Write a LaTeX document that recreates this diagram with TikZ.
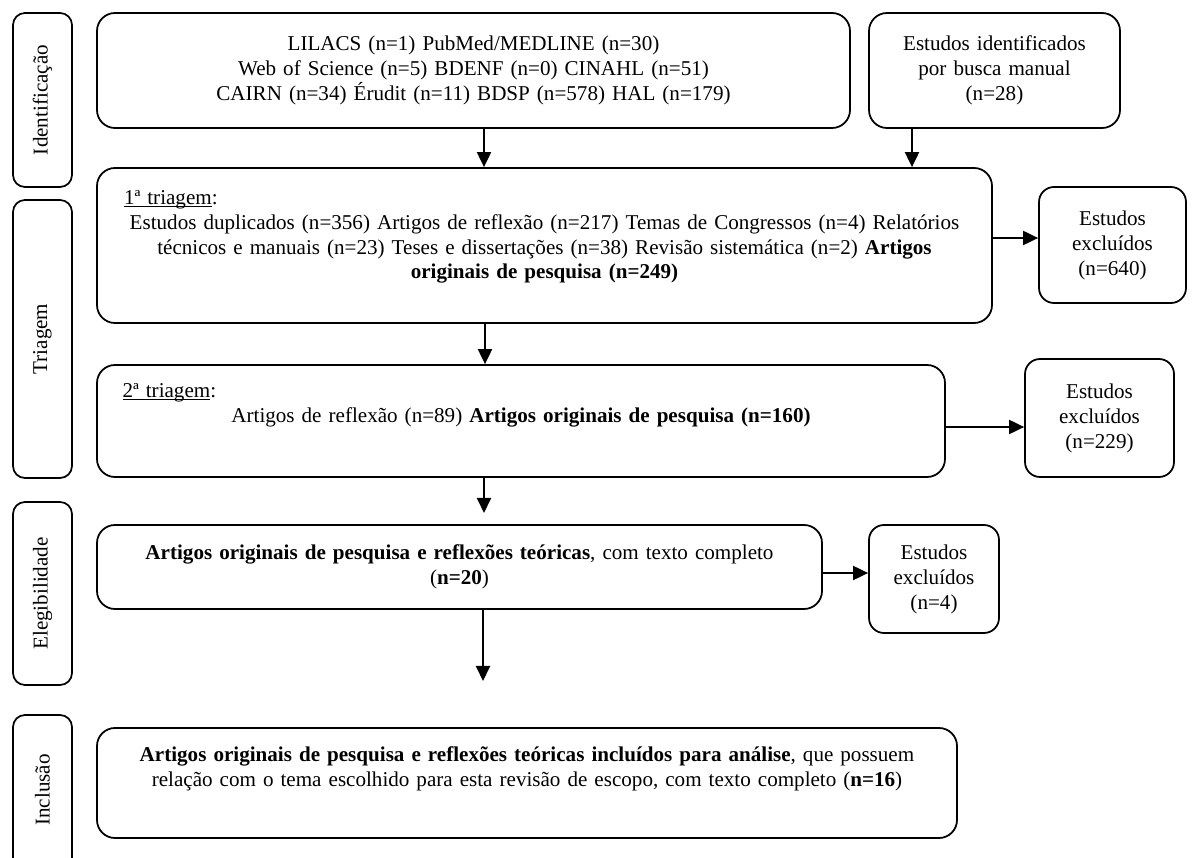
\documentclass[tikz,border=0pt]{standalone}
\usepackage{fontspec}
\setmainfont{Liberation Serif}
\usepackage{tikz}
\usetikzlibrary{arrows.meta, positioning}

% underline sitting close to the baseline
\newcommand{\sublinhado}[1]{\setbox0\hbox{#1}\rlap{\rule[-1.6pt]{\wd0}{0.55pt}}\box0}

\begin{document}
\begin{tikzpicture}[
    font=\fontsize{12}{14.2}\selectfont,
    etapa/.style={draw, line width=1pt, rounded corners=0.24cm, rotate=90, minimum height=1.18cm, inner sep=0pt},
    caixa/.style={draw, line width=1pt, rounded corners=0.36cm, align=center, inner sep=0pt},
    excl/.style={draw, line width=1pt, rounded corners=0.3cm, align=center, inner sep=0pt},
    seta/.style={-{Triangle[length=0.3cm, width=0.28cm]}, line width=1.1pt}
]
    \useasboundingbox (0,0) rectangle (23.84,17.14);

    % Etapas (left column)
    \node[etapa, minimum width=3.48cm] (ident) at (0.85,15.14) {Identificação};
    \node[etapa, minimum width=5.56cm] (triag) at (0.85,10.36) {Triagem};
    \node[etapa, minimum width=3.66cm] (elegi) at (0.85,5.27) {Elegibilidade};
    \node[etapa, minimum width=3.4cm] (inclu) at (0.85,1.14) {\hspace*{0.4cm}Inclusão};

    % Identificacao
    \node[caixa, minimum width=15.06cm, minimum height=2.3cm, text width=14.5cm] (bases) at (9.47,15.73)
        {LILACS (n=1) PubMed/MEDLINE (n=30)\\
         Web of Science (n=5) BDENF (n=0) CINAHL (n=51)\\
         CAIRN (n=34) Érudit (n=11) BDSP (n=578) HAL (n=179)};
    \node[caixa, minimum width=5.02cm, minimum height=2.3cm, text width=4.6cm] (manual) at (19.89,15.73)
        {Estudos identificados\\ por busca manual\\ (n=28)};

    % 1a triagem
    \node[caixa, minimum width=17.9cm, minimum height=3.1cm, text width=16.82cm] (tria1) at (10.89,12.23)
        {\sublinhado{1ª triagem}:\hfill\null\\
         Estudos duplicados (n=356) Artigos de reflexão (n=217) Temas de Congressos (n=4) Relatórios\\
         técnicos e manuais (n=23) Teses e dissertações (n=38) Revisão sistemática (n=2) \textbf{Artigos}\\
         \textbf{originais de pesquisa (n=249)}\\[-1.7pt]\mbox{}};
    \node[excl, minimum width=2.94cm, minimum height=2.32cm, text width=2.6cm] (excl1) at (22.25,12.24)
        {Estudos\\ excluídos\\ (n=640)};

    % 2a triagem
    \node[caixa, minimum width=16.96cm, minimum height=2.24cm, text width=15.94cm] (tria2) at (10.42,8.72)
        {\sublinhado{2ª triagem}:\hfill\null\\
         Artigos de reflexão (n=89) \textbf{Artigos originais de pesquisa (n=160)}\\[6.3pt]\mbox{}};
    \node[excl, minimum width=2.98cm, minimum height=2.36cm, text width=2.6cm] (excl2) at (21.99,8.78)
        {Estudos\\ excluídos\\ (n=229)};

    % Elegibilidade
    \node[caixa, minimum width=14.5cm, minimum height=1.68cm, text width=13.5cm] (elegiv) at (9.19,5.80)
        {\textbf{Artigos originais de pesquisa e reflexões teóricas}, com texto completo\\
         (\textbf{n=20})};
    \node[excl, minimum width=2.6cm, minimum height=2.16cm, text width=2.4cm] (excl3) at (18.68,5.56)
        {Estudos\\ excluídos\\ (n=4)};

    % Inclusao
    \node[caixa, minimum width=17.2cm, minimum height=2.2cm, text width=16.5cm] (inclus) at (10.54,1.48)
        {\textbf{Artigos originais de pesquisa e reflexões teóricas incluídos para análise}, que possuem\\
         relação com o tema escolhido para esta revisão de escopo, com texto completo (\textbf{n=16})\\[4.6pt]\mbox{}};

    % Free arrow ends
    \coordinate (fim1) at (9.68,6.88);
    \coordinate (fim2) at (9.66,3.52);

    % Arrows down
    \draw[seta] ([xshift=0.21cm]bases.south) -- ([xshift=0.21cm]bases.south |- tria1.north);
    \draw[seta] ([xshift=-1.65cm]manual.south) -- ([xshift=-1.65cm]manual.south |- tria1.north);
    \draw[seta] ([xshift=-1.19cm]tria1.south) -- ([xshift=-1.19cm]tria1.south |- tria2.north);
    \draw[seta] (tria2.south -| fim1) -- (fim1);
    \draw[seta] (elegiv.south -| fim2) -- (fim2);

    % Arrows to excluded
    \draw[seta] ([yshift=0.15cm]tria1.east) -- ([yshift=0.15cm]tria1.east -| excl1.west);
    \draw[seta] ([yshift=-0.12cm]tria2.east) -- ([yshift=-0.12cm]tria2.east -| excl2.west);
    \draw[seta] ([yshift=-0.12cm]elegiv.east) -- ([yshift=-0.12cm]elegiv.east -| excl3.west);

\end{tikzpicture}
\end{document}
